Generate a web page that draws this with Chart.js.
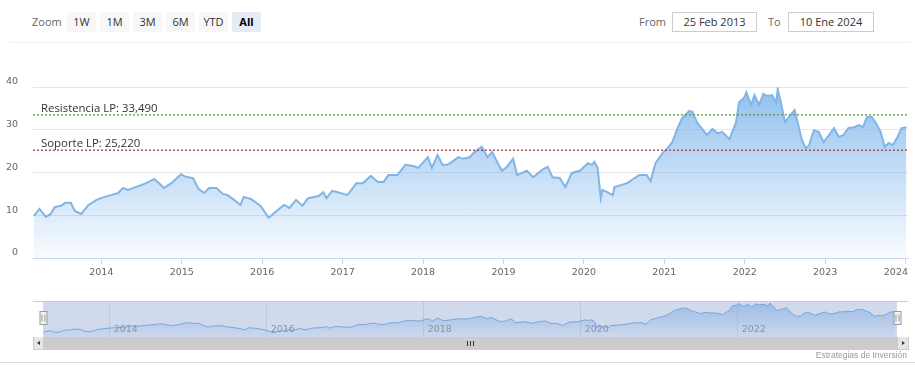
<!DOCTYPE html>
<html>
<head>
<meta charset="utf-8">
<script src="https://cdn.jsdelivr.net/npm/chart.js@4.4.1/dist/chart.umd.min.js"></script>
<style>
  body { margin: 0; width: 915px; height: 374px; overflow: hidden; background: #fff; position: relative; font-family: "Open Sans", sans-serif; }
  canvas { position: absolute; left: 0; }
  .line { position: absolute; height: 1px; }
  .btn { position: absolute; top: 12px; width: 29px; height: 20px; line-height: 20px; text-align: center; font-size: 11px; color: #333; background: #f7f7f7; }
  .btn.sel { background: #e6ebf5; color: #000; font-weight: bold; }
  .lbl { position: absolute; top: 12px; line-height: 20px; font-size: 11px; color: #666; }
  .inp { position: absolute; top: 12px; height: 18px; line-height: 18px; border: 1px solid #ccc; text-align: center; font-size: 11px; color: #333; }
  .sb { position: absolute; top: 337px; height: 13px; }
</style>
</head>
<body>
<div class="line" style="top:42px;left:9px;width:901px;background:#f0f0f0"></div>
<canvas id="main" width="915" height="245" style="top:45px"></canvas>
<canvas id="nav" width="915" height="38" style="top:300px"></canvas>

<div class="lbl" style="left:32px">Zoom</div>
<div class="btn" style="left:67px">1W</div>
<div class="btn" style="left:100px">1M</div>
<div class="btn" style="left:133px">3M</div>
<div class="btn" style="left:166px">6M</div>
<div class="btn" style="left:199px">YTD</div>
<div class="btn sel" style="left:232px">All</div>
<div class="lbl" style="left:639px">From</div>
<div class="inp" style="left:672px;width:83px">25 Feb 2013</div>
<div class="lbl" style="left:768px">To</div>
<div class="inp" style="left:788px;width:84px">10 Ene 2024</div>

<div class="sb" style="left:33px;width:875px;background:#f2f2f2"></div>
<div class="sb" style="left:43px;width:854px;background:#cccccc"></div>
<div class="sb" style="left:33px;width:9px;height:12px;background:#e6e6e6;border:1px solid #ccc;border-top:none"></div>
<div class="sb" style="left:897px;width:10px;height:12px;background:#e6e6e6;border:1px solid #ccc;border-top:none"></div>
<div style="position:absolute;left:37px;top:341px;width:0;height:0;border-top:2.5px solid transparent;border-bottom:2.5px solid transparent;border-right:3px solid #333"></div>
<div style="position:absolute;left:902px;top:341px;width:0;height:0;border-top:2.5px solid transparent;border-bottom:2.5px solid transparent;border-left:3px solid #333"></div>
<div style="position:absolute;left:467px;top:341px;width:1px;height:5px;background:#333"></div>
<div style="position:absolute;left:470px;top:341px;width:1px;height:5px;background:#333"></div>
<div style="position:absolute;left:473px;top:341px;width:1px;height:5px;background:#333"></div>

<div class="line" style="top:362px;left:0;width:915px;background:#dddddd"></div>
<div style="position:absolute;right:8px;top:350px;font-family:'Liberation Sans',sans-serif;font-size:8.5px;color:#999">Estrategias de Inversión</div>

<script>
// decimal years and closing prices
const years = [
  2013.16, 2013.23, 2013.31, 2013.37, 2013.42, 2013.50, 2013.55, 2013.62, 2013.67, 2013.75,
  2013.84, 2013.94, 2014.04, 2014.12, 2014.21, 2014.27, 2014.33, 2014.46, 2014.53, 2014.66,
  2014.78, 2014.87, 2014.99, 2015.05, 2015.14, 2015.21, 2015.28, 2015.34, 2015.43, 2015.51,
  2015.57, 2015.65, 2015.73, 2015.77, 2015.86, 2015.98, 2016.08, 2016.17, 2016.27, 2016.34,
  2016.42, 2016.50, 2016.57, 2016.70, 2016.76, 2016.80, 2016.87, 2016.94, 2017.06, 2017.17,
  2017.25, 2017.35, 2017.44, 2017.51, 2017.57, 2017.68, 2017.78, 2017.88, 2017.94, 2018.06,
  2018.11, 2018.18, 2018.24, 2018.30, 2018.36, 2018.44, 2018.50, 2018.58, 2018.63, 2018.73,
  2018.80, 2018.86, 2018.91, 2018.98, 2019.04, 2019.12, 2019.17, 2019.23, 2019.29, 2019.37,
  2019.48, 2019.55, 2019.61, 2019.70, 2019.77, 2019.85, 2019.95, 2020.05, 2020.10, 2020.13,
  2020.17, 2020.21, 2020.23, 2020.29, 2020.36, 2020.38, 2020.47, 2020.54, 2020.63, 2020.69,
  2020.78, 2020.83, 2020.89, 2020.98, 2021.04, 2021.10, 2021.16, 2021.22, 2021.31, 2021.35,
  2021.41, 2021.47, 2021.53, 2021.60, 2021.66, 2021.72, 2021.81, 2021.89, 2021.93, 2021.99,
  2022.02, 2022.08, 2022.12, 2022.18, 2022.23, 2022.28, 2022.34, 2022.39, 2022.41, 2022.45,
  2022.50, 2022.55, 2022.62, 2022.66, 2022.71, 2022.76, 2022.80, 2022.86, 2022.92, 2022.98,
  2023.05, 2023.11, 2023.17, 2023.23, 2023.29, 2023.36, 2023.42, 2023.47, 2023.52, 2023.58,
  2023.63, 2023.69, 2023.74, 2023.79, 2023.84, 2023.90, 2023.95, 2024.01
];
const prices = [
  9.8, 11.5, 9.6, 10.3, 11.9, 12.2, 12.9, 12.9, 11.0, 10.3,
  12.4, 13.6, 14.3, 14.7, 15.2, 16.4, 15.9, 16.8, 17.3, 18.5,
  16.4, 17.5, 19.6, 19.0, 18.7, 16.1, 15.2, 16.4, 16.4, 15.0,
  14.7, 13.6, 12.4, 14.3, 13.8, 12.2, 9.4, 10.8, 12.4, 11.7,
  13.6, 12.2, 14.0, 14.5, 15.4, 14.0, 15.7, 15.4, 14.7, 17.5,
  17.5, 19.2, 17.8, 17.8, 19.4, 19.4, 21.8, 21.5, 21.1, 23.6,
  21.1, 24.1, 21.8, 21.8, 22.5, 23.6, 23.2, 23.6, 24.6, 26.0,
  23.6, 24.8, 22.9, 20.4, 21.3, 23.2, 19.4, 19.9, 20.4, 18.9,
  20.6, 21.3, 18.9, 18.7, 16.6, 19.9, 20.4, 22.2, 21.8, 22.5,
  21.1, 14.0, 15.9, 15.4, 14.7, 16.6, 17.1, 17.5, 18.7, 19.4,
  19.4, 18.0, 22.2, 24.6, 25.7, 27.1, 30.2, 32.7, 34.4, 34.2,
  31.6, 30.2, 28.8, 30.2, 29.2, 29.5, 27.8, 31.6, 36.5, 37.4,
  38.8, 35.8, 38.1, 35.8, 38.4, 37.9, 38.1, 36.3, 39.5, 36.3,
  31.8, 33.0, 34.6, 31.6, 27.6, 25.7, 26.4, 29.9, 29.5, 27.1,
  28.8, 30.4, 28.3, 28.8, 30.4, 30.6, 31.1, 30.6, 33.0, 33.0,
  31.6, 29.5, 26.0, 26.9, 26.4, 28.3, 30.4, 30.6
];
const startYear = 2013.15;
const endYear = 2024.03;
const yTicks = [0, 10, 20, 30, 40];
const xTicks = [2014, 2015, 2016, 2017, 2018, 2019, 2020, 2021, 2022, 2023, 2024];
const navTicks = [2014, 2016, 2018, 2020, 2022];
const levels = [33.49, 25.22];
const levelLabels = ["Resistencia LP: 33,490", "Soporte LP: 25,220"];
const levelColors = ["#5e9a3e", "#a63a35"];

const series = years.map((x, i) => ({ x: x, y: prices[i] }));
const levelLine = (v) => [{ x: startYear, y: v }, { x: endYear, y: v }];

const areaFill = (top, bottom) => (ctx) => {
  const a = ctx.chart.chartArea;
  if (!a) return "rgba(124,181,236,0.4)";
  const g = ctx.chart.ctx.createLinearGradient(0, a.top, 0, a.bottom);
  g.addColorStop(0, "rgba(124,181,236," + top + ")");
  g.addColorStop(1, "rgba(124,181,236," + bottom + ")");
  return g;
};

const levelLabelPlugin = {
  id: "levelLabels",
  afterDatasetsDraw(chart) {
    const { ctx, chartArea, scales } = chart;
    ctx.save();
    ctx.font = '11.4px "Open Sans"';
    ctx.fillStyle = "#333";
    levels.forEach((v, i) => {
      ctx.fillText(levelLabels[i], chartArea.left + 8, scales.y.getPixelForValue(v) - 3);
    });
    ctx.restore();
  },
};

const xLabelPlugin = {
  id: "xLabels",
  afterDraw(chart) {
    const { ctx, chartArea, scales } = chart;
    ctx.save();
    ctx.font = '9.5px "DejaVu Sans"';
    ctx.fillStyle = "#666";
    ctx.textAlign = "center";
    ctx.textBaseline = "middle";
    xTicks.forEach((t) => {
      const w = ctx.measureText(String(t)).width;
      const px = Math.min(scales.x.getPixelForValue(t), chartArea.right - w / 2);
      ctx.fillText(String(t), px, chartArea.bottom + 15);
    });
    ctx.restore();
  },
};

new Chart(document.getElementById("main"), {
  type: "line",
  data: {
    datasets: [
      { data: levelLine(levels[0]), borderColor: levelColors[0], borderWidth: 1.3, borderDash: [2, 2], pointRadius: 0, fill: false },
      { data: levelLine(levels[1]), borderColor: levelColors[1], borderWidth: 1.3, borderDash: [2, 2], pointRadius: 0, fill: false },
      { data: series, borderColor: "#82b4e6", borderWidth: 2, backgroundColor: areaFill(0.85, 0.05), fill: "origin", pointRadius: 0, tension: 0 },
    ],
  },
  options: {
    responsive: false,
    animation: false,
    layout: { padding: { top: 42, right: 7, left: 0, bottom: 0 } },
    plugins: { legend: { display: false }, tooltip: { enabled: false } },
    scales: {
      x: {
        type: "linear",
        min: startYear,
        max: endYear,
        afterBuildTicks: (s) => { s.ticks = xTicks.map((v) => ({ value: v })); },
        afterFit: (s) => { s.height = 32; s.paddingLeft = 0; s.paddingRight = 0; },
        ticks: { display: false },
        grid: { drawOnChartArea: false, drawTicks: true, tickLength: 6, color: "#ccd6eb" },
        border: { display: true, color: "#ccd6eb" },
      },
      y: {
        min: 0,
        max: 40,
        afterBuildTicks: (s) => { s.ticks = yTicks.map((v) => ({ value: v })); },
        afterFit: (s) => { s.width = 33; },
        ticks: { padding: 15, labelOffset: -5, color: "#666", font: { family: "DejaVu Sans", size: 9.5 } },
        grid: { color: "#e6e6e6", drawTicks: false },
        border: { display: false },
      },
    },
  },
  plugins: [levelLabelPlugin, xLabelPlugin],
});

// navigator: mask, labels, handles
const navPlugin = {
  id: "navigator",
  afterDatasetsDraw(chart) {
    const { ctx, chartArea: a, scales } = chart;
    ctx.save();
    ctx.fillStyle = "rgba(102,133,194,0.3)";
    ctx.fillRect(a.left, a.top, a.right - a.left, a.bottom - a.top);
    ctx.strokeStyle = "#cccccc";
    ctx.lineWidth = 1;
    ctx.beginPath();
    ctx.moveTo(33, a.top + 0.5);
    ctx.lineTo(908, a.top + 0.5);
    ctx.stroke();
    ctx.font = '9.5px "DejaVu Sans"';
    ctx.fillStyle = "#8a93a6";
    ctx.textBaseline = "middle";
    navTicks.forEach((t) => ctx.fillText(String(t), scales.x.getPixelForValue(t) + 4, a.bottom - 7.5));
    [a.left, a.right].forEach((h) => {
      const hx = Math.round(h) + 0.5;
      ctx.fillStyle = "#f2f2f2";
      ctx.strokeStyle = "#999999";
      ctx.fillRect(hx - 3.5, 11.5, 7, 13);
      ctx.strokeRect(hx - 3.5, 11.5, 7, 13);
      ctx.beginPath();
      ctx.moveTo(hx - 1.5, 14.5); ctx.lineTo(hx - 1.5, 21.5);
      ctx.moveTo(hx + 1.5, 14.5); ctx.lineTo(hx + 1.5, 21.5);
      ctx.stroke();
    });
    ctx.restore();
  },
};

new Chart(document.getElementById("nav"), {
  type: "line",
  data: {
    datasets: [
      { data: series, borderColor: "#7cb5ec", borderWidth: 1, backgroundColor: areaFill(0.6, 0.05), fill: "start", pointRadius: 0, tension: 0 },
    ],
  },
  options: {
    responsive: false,
    animation: false,
    layout: { padding: { top: 1, right: 18, left: 43, bottom: 1 } },
    plugins: { legend: { display: false }, tooltip: { enabled: false } },
    scales: {
      x: {
        type: "linear",
        min: startYear,
        max: endYear,
        afterBuildTicks: (s) => { s.ticks = navTicks.map((v) => ({ value: v })); },
        afterFit: (s) => { s.height = 0; s.paddingLeft = 0; s.paddingRight = 0; },
        ticks: { display: false },
        grid: { drawTicks: false, color: "#e6e6e6" },
        border: { display: false },
      },
      y: { display: false, min: 5, max: 41.5 },
    },
  },
  plugins: [navPlugin],
});
</script>
</body>
</html>
